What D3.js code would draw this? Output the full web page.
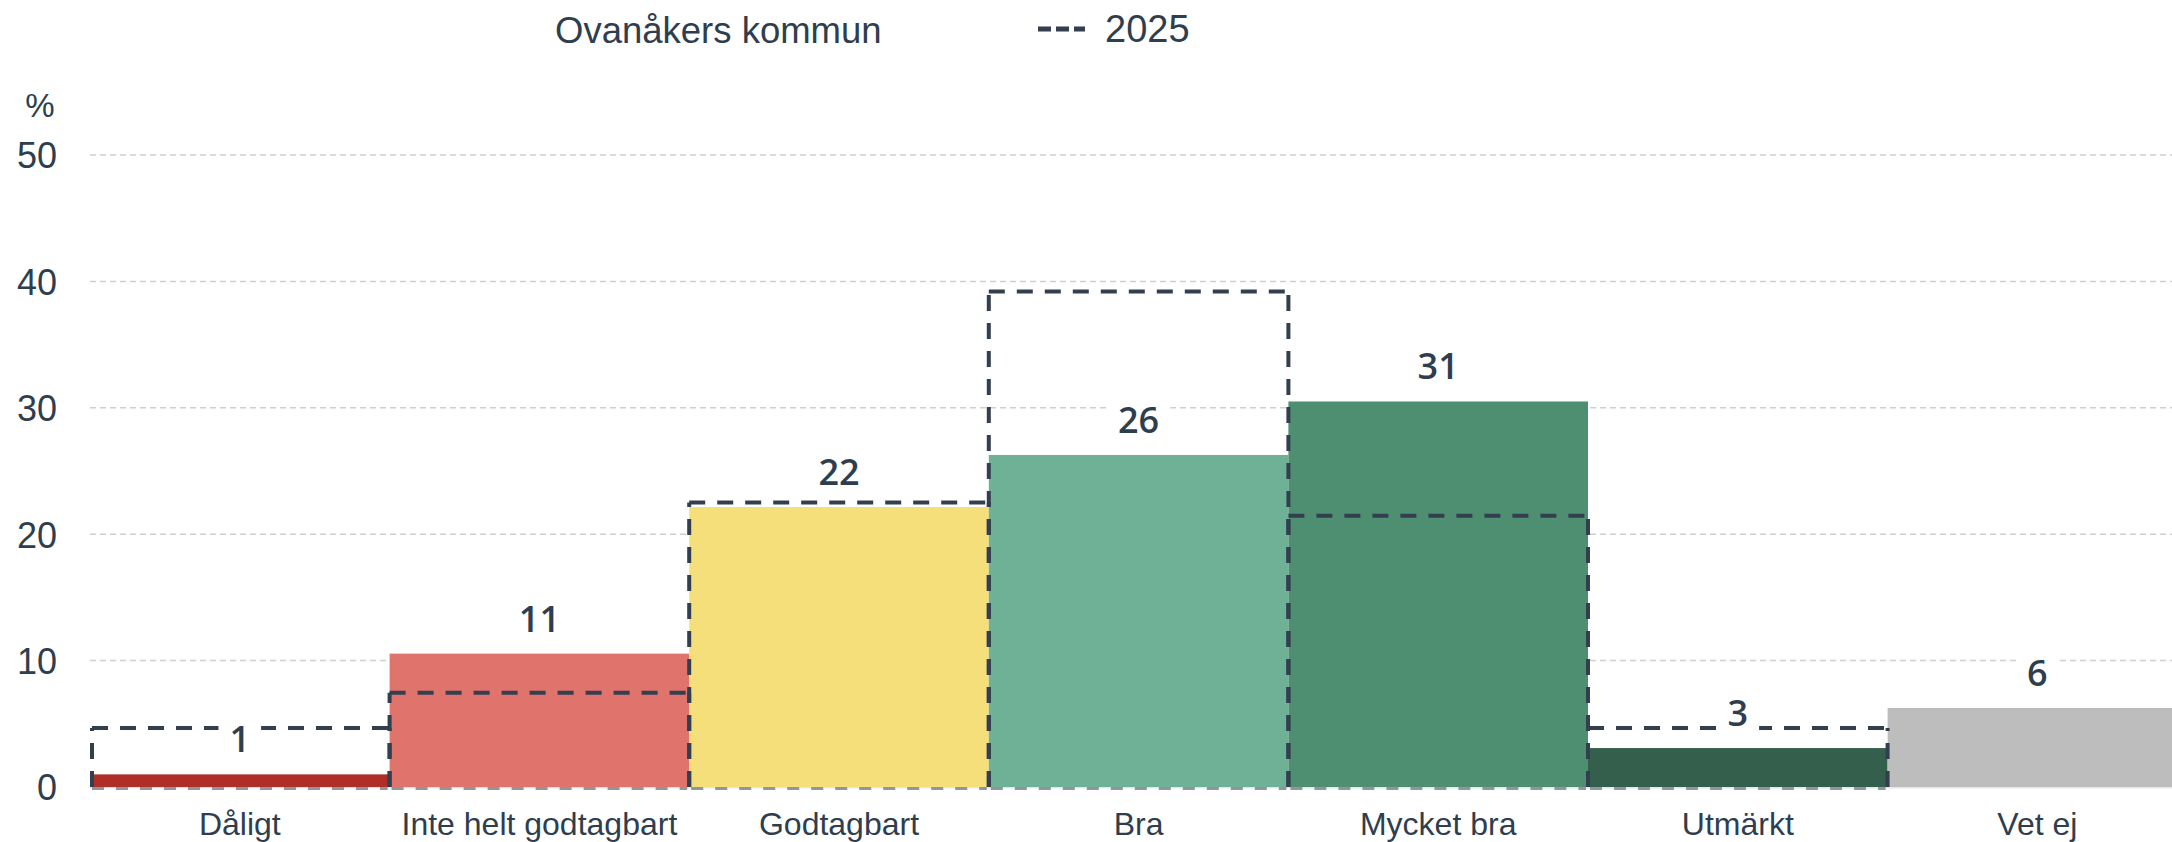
<!DOCTYPE html>
<html>
<head>
<meta charset="utf-8">
<script src="https://cdn.jsdelivr.net/npm/d3@7"></script>
<style>
  html, body { margin: 0; padding: 0; background: #fff; overflow: hidden; }
  svg { display: block; }
</style>
</head>
<body>
<svg id="chart" width="2172" height="842"></svg>
<script>
const categories = ["Dåligt", "Inte helt godtagbart", "Godtagbart", "Bra", "Mycket bra", "Utmärkt", "Vet ej"];
const values2026 = [1.0, 10.55, 22.15, 26.27, 30.5, 3.08, 6.25];
const values2025 = [4.67, 7.46, 22.5, 39.2, 21.46, 4.67, null];
const barColors = ["#b02e28", "#e0736b", "#f5df7a", "#6fb196", "#4e8f72", "#335f4c", "#bdbdbd"];
const yTicks = [0, 10, 20, 30, 40, 50];
const seriesName = "Ovanåkers kommun";
const compareName = "2025";
const yUnit = "%";

const textColor = "#2f3e4e";
const dashColor = "#333f4f";

const svg = d3.select("#chart");
const margin = { left: 90, top: 155, bottom: 787 };
const plotRight = 90 + 7 * 299.6;

const x = d3.scaleBand().domain(categories).range([margin.left, plotRight]).paddingInner(0).paddingOuter(0);
const y = d3.scaleLinear().domain([0, 50]).range([margin.bottom, margin.top]);

// gridlines
svg.append("g").selectAll("line").data(yTicks.filter(t => t > 0)).join("line")
  .attr("x1", margin.left).attr("x2", 2172)
  .attr("y1", d => y(d)).attr("y2", d => y(d))
  .attr("stroke", "#cfcfcf").attr("stroke-width", 1.5).attr("stroke-dasharray", "6,4");

// y axis labels
const yAxis = d3.axisLeft(y).tickValues(yTicks).tickSize(0).tickPadding(0).tickFormat(d3.format("d"));
const yg = svg.append("g").attr("transform", "translate(57,0)").call(yAxis);
yg.select(".domain").remove();
yg.selectAll("text").attr("font-family", "'Liberation Sans', Arial, sans-serif")
  .attr("font-size", 36).attr("fill", textColor).attr("dy", "0.36em").attr("text-anchor", "end");

svg.append("text").attr("x", 40).attr("y", 117).attr("text-anchor", "middle")
  .attr("font-family", "'Liberation Sans', Arial, sans-serif").attr("font-size", 33).attr("fill", textColor).text(yUnit);

// x axis line
svg.append("line").attr("x1", margin.left).attr("x2", 2172)
  .attr("y1", y(0) + 0.5).attr("y2", y(0) + 0.5).attr("stroke", "#e3e6ea").attr("stroke-width", 2);

// bars
svg.append("g").selectAll("rect").data(categories).join("rect")
  .attr("x", d => x(d)).attr("width", x.bandwidth())
  .attr("y", (d, i) => y(values2026[i]))
  .attr("height", (d, i) => y(0) - y(values2026[i]))
  .attr("fill", (d, i) => barColors[i]);

// 2025 dashed outlines
const outl = categories.map((c, i) => ({ c, v: values2025[i] })).filter(d => d.v != null);
svg.append("g").selectAll("line").data(outl).join("line")
  .attr("x1", d => x(d.c) + 2).attr("x2", d => x(d.c) + x.bandwidth() - 2)
  .attr("y1", y(0) + 1.5).attr("y2", y(0) + 1.5)
  .attr("stroke", "#8e979f").attr("stroke-width", 3).attr("stroke-dasharray", "12,12");
svg.append("g").selectAll("path").data(outl).join("path")
  .attr("d", d => {
    const p = d3.path();
    const x0 = Math.max(x(d.c), margin.left + 2), x1 = x(d.c) + x.bandwidth();
    p.moveTo(x0, y(0)); p.lineTo(x0, y(d.v));
    p.moveTo(x0, y(d.v)); p.lineTo(x1, y(d.v));
    p.moveTo(x1, y(0)); p.lineTo(x1, y(d.v));
    return p.toString();
  })
  .attr("fill", "none").attr("stroke", dashColor).attr("stroke-width", 4)
  .attr("stroke-dasharray", "16,12");

// data labels
const lg = svg.append("g");
categories.forEach((c, i) => {
  const cx = x(c) + x.bandwidth() / 2;
  const by = y(values2026[i]) - 22;
  const g = lg.append("g");
  const rect = g.append("rect").attr("fill", "#fff");
  const t = g.append("text").attr("x", cx).attr("y", by).attr("text-anchor", "middle")
    .attr("font-family", "'Open Sans', 'Noto Sans', sans-serif").attr("font-weight", 600)
    .attr("font-size", 36).attr("fill", textColor).text(Math.round(values2026[i]));
  const bb = t.node().getBBox();
  rect.attr("x", bb.x - 11).attr("width", bb.width + 22).attr("y", by - 32).attr("height", 40);
});

// x labels
svg.append("g").selectAll("text").data(categories).join("text")
  .attr("x", d => x(d) + x.bandwidth() / 2).attr("y", 835).attr("text-anchor", "middle")
  .attr("font-family", "'Liberation Sans', Arial, sans-serif").attr("font-size", 32).attr("fill", textColor)
  .text(d => d);

// legend
svg.append("text").attr("x", 555).attr("y", 43)
  .attr("font-family", "'Liberation Sans', Arial, sans-serif").attr("font-size", 36.5).attr("fill", textColor).text(seriesName);
svg.append("line").attr("x1", 1038).attr("x2", 1085).attr("y1", 29).attr("y2", 29)
  .attr("stroke", dashColor).attr("stroke-width", 5).attr("stroke-dasharray", "13,5");
svg.append("text").attr("x", 1105).attr("y", 42)
  .attr("font-family", "'Liberation Sans', Arial, sans-serif").attr("font-size", 38).attr("fill", textColor).text(compareName);
</script>
</body>
</html>
